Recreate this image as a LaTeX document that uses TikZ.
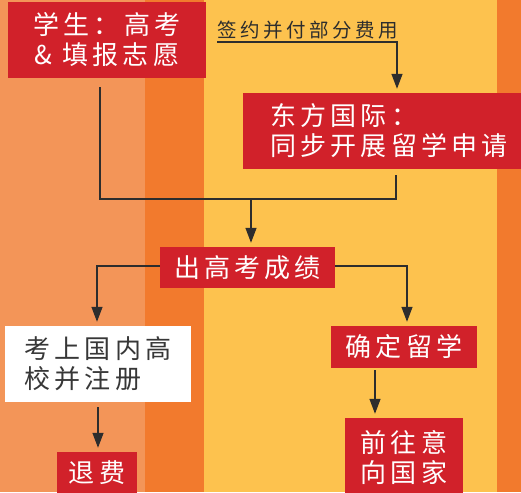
\documentclass[tikz,border=0pt]{standalone}
\usepackage{fontspec}
\setmainfont{Noto Sans CJK SC}
\newfontfamily\cjk[LetterSpace=16]{Noto Sans CJK SC}
\newfontfamily\cjks[LetterSpace=18]{Noto Sans CJK SC}
\usetikzlibrary{arrows.meta}
\definecolor{bgA}{RGB}{243,149,88}
\definecolor{bgB}{RGB}{242,122,45}
\definecolor{bgC}{RGB}{253,194,78}
\definecolor{boxred}{RGB}{209,33,42}
\definecolor{lineC}{RGB}{45,45,45}
\definecolor{txtgray}{RGB}{55,55,55}
\tikzset{
  redbox/.style={fill=boxred, text=white, font=\cjk\fontsize{26}{30}\selectfont, inner sep=0pt, align=center},
  whitebox/.style={fill=white, text=txtgray, font=\cjk\fontsize{26}{30}\selectfont, inner sep=0pt, align=left},
  conn/.style={draw=lineC, line width=1.3pt},
  arr/.style={conn, -{Triangle[length=15pt,width=11pt]}, shorten >=4pt},
  lbltext/.style={font=\cjks\fontsize{19.5}{20}\selectfont, text=lineC, inner sep=0pt}
}
\begin{document}
\begin{tikzpicture}[x=1pt,y=-1pt]
\useasboundingbox (0,0) rectangle (521,492);
\fill[bgA] (0,0) rectangle (145,492);
\fill[bgB] (145,0) rectangle (204,492);
\fill[bgC] (204,0) rectangle (497,492);
\fill[bgB] (497,0) rectangle (521,492);

\node[redbox, minimum width=198pt, minimum height=76pt] (b1) at (107,40) {学生：高考\\\& 填报志愿};
\node[redbox, align=left, minimum width=292pt, minimum height=76pt] (b2) at (389,131) {东方国际：\\同步开展留学申请};
\node[redbox, minimum width=175pt, minimum height=41pt] (b3) at (247.5,267.5) {出高考成绩};
\node[whitebox, minimum width=186pt, minimum height=76pt] (b4) at (98,364) {考上国内高\\校并注册};
\node[redbox, minimum width=80pt, minimum height=42pt] (b5) at (97,473) {退费};
\node[redbox, minimum width=146pt, minimum height=42pt] (b6) at (404,347) {确定留学};
\node[redbox, minimum width=118pt, minimum height=79pt] (b7) at (404,457.5) {前往意\\向国家};

\node[lbltext] (lbl) at (308,30) {签约并付部分费用};
\coordinate (s1) at (217,42);
\coordinate (j) at (251,199);

\draw[arr] (s1) -| ([xshift=8pt]b2.north);
\draw[conn] ([xshift=-7pt,yshift=-9pt]b1.south) |- (j);
\draw[conn] ([xshift=7pt,yshift=-6pt]b2.south) |- (j);
\draw[arr] (j) -- (j |- b3.north);
\draw[arr] ([yshift=1.5pt]b3.west) -| ([xshift=-1pt]b4.north);
\draw[arr] ([yshift=1.5pt]b3.east) -| ([xshift=3pt]b6.north);
\draw[arr] ([yshift=-5pt]b4.south) -- (b4.south |- b5.north);
\draw[arr] ([xshift=-29pt,yshift=-2pt]b6.south) -- ([xshift=-29pt]b6.south |- b7.north);
\end{tikzpicture}
\end{document}
